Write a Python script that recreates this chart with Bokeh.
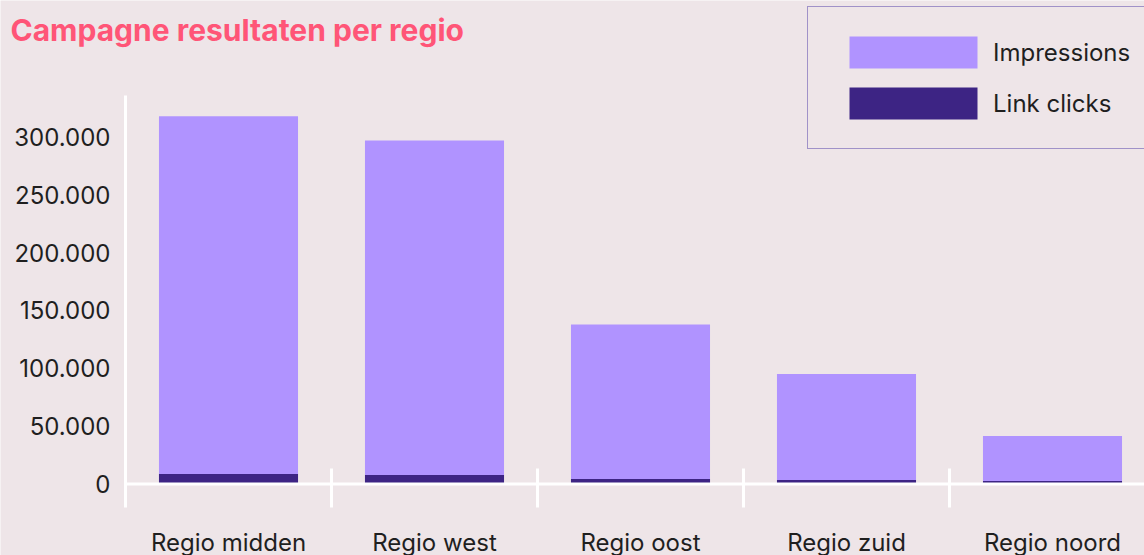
from bokeh.plotting import figure
from bokeh.models import (Range1d, FixedTicker, CustomJSTickFormatter, Legend,
                          LegendItem, ColumnDataSource, Label)
from bokeh.embed import file_html
from bokeh.resources import INLINE

# ---- data ----
regions = ["Regio midden", "Regio west", "Regio oost", "Regio zuid", "Regio noord"]
impressions = [318000, 297000, 138000, 95000, 41500]
link_clicks = [8600, 7800, 4300, 3500, 2600]
y_ticks = [0, 50000, 100000, 150000, 200000, 250000, 300000]
series_names = ["Impressions", "Link clicks"]
title_text = "Campagne resultaten per regio"

# ---- style ----
BG = "#EEE5E8"
C_IMP = "#B093FF"
C_CLK = "#3D2484"
C_TITLE = "#FF5577"
C_TEXT = "#1F1F1F"
C_LEGEND_BORDER = "#5240A8"
FONT = "Inter"

# ---- geometry (canvas pixels) ----
W, H = 1144, 555
ZERO_Y = 483.5          # canvas y of value 0
PX_PER_VAL = 1.1567 / 1000
AXIS_X = 125            # canvas x of the y axis (left edge of first category)
CAT_W = 206             # pixel width of one category


def ydata(cy):
    return (ZERO_Y - cy) / PX_PER_VAL


def xdata(cx):
    return (cx - AXIS_X) / CAT_W


x_pos = [i + 0.5 for i in range(len(regions))]
separators = [i for i in range(1, len(regions))]
source = ColumnDataSource(dict(x=x_pos, region=regions,
                               impressions=impressions, link_clicks=link_clicks))

p = figure(width=W, height=H, output_backend="svg", toolbar_location=None, title=None,
           x_range=Range1d(xdata(0), xdata(W)), y_range=Range1d(ydata(H), ydata(0)),
           min_border=0, min_border_left=0, min_border_right=0, min_border_top=0,
           min_border_bottom=0)
p.background_fill_color = BG
p.border_fill_color = BG
p.outline_line_color = None
p.grid.visible = False

r1 = p.vbar(x="x", top="impressions", width=0.675, source=source,
            fill_color=C_IMP, line_color=None)
r2 = p.vbar(x="x", top="link_clicks", width=0.675, source=source,
            fill_color=C_CLK, line_color=None)

# axis lines and category separators (white)
p.segment(x0=[0], y0=[ydata(507)], x1=[0], y1=[ydata(95)],
          line_color="white", line_width=3)
p.segment(x0=[0], y0=[0], x1=[xdata(W)], y1=[0],
          line_color="white", line_width=3)
p.segment(x0=separators, y0=[ydata(507)] * len(separators),
          x1=separators, y1=[ydata(468)] * len(separators),
          line_color="white", line_width=3)

# x axis (labels drawn up into the canvas, panel takes no space)
xa = p.xaxis[0]
xa.ticker = FixedTicker(ticks=x_pos)
xa.formatter = CustomJSTickFormatter(args=dict(labels=regions),
                                     code="return labels[Math.round(tick - 0.5)];")
xa.axis_label = " "
xa.axis_label_standoff = -40
xa.axis_label_text_font_size = "10px"
xa.axis_line_color = None
xa.major_tick_line_color = None
xa.minor_tick_line_color = None
xa.major_tick_out = 0
xa.major_tick_in = 0
xa.minor_tick_out = 0
xa.minor_tick_in = 0
xa.major_label_standoff = -28
xa.major_label_text_font = FONT
xa.major_label_text_font_size = "24px"
xa.major_label_text_color = C_TEXT

# y axis (labels drawn right of the panel, inside the canvas)
ya = p.yaxis[0]
ya.ticker = FixedTicker(ticks=y_ticks)
ya.formatter = CustomJSTickFormatter(
    code='return tick.toFixed(0).replace(/\\B(?=(\\d{3})+(?!\\d))/g, ".");')
ya.axis_label = None
ya.axis_line_color = None
ya.major_tick_line_color = None
ya.minor_tick_line_color = None
ya.major_tick_out = 0
ya.major_tick_in = 0
ya.minor_tick_out = 0
ya.minor_tick_in = 0
ya.major_label_standoff = -110
ya.major_label_text_font = FONT
ya.major_label_text_font_size = "24px"
ya.major_label_text_color = C_TEXT

# title
p.add_layout(Label(x=xdata(10), y=ydata(29.5), text=title_text,
                   text_font=FONT, text_font_style="bold", text_font_size="30px",
                   text_color=C_TITLE, text_align="left", text_baseline="alphabetic"))

# legend (area swatches are drawn at 80% of the glyph box)
legend = Legend(items=[LegendItem(label=series_names[0], renderers=[r1]),
                       LegendItem(label=series_names[1], renderers=[r2])],
                location=(807, H - 149), orientation="vertical",
                glyph_width=160, glyph_height=40, label_standoff=-3,
                spacing=11, padding=25, margin=0,
                border_line_color=C_LEGEND_BORDER, border_line_width=1.5,
                background_fill_color=BG, background_fill_alpha=1,
                label_text_font=FONT, label_text_font_size="24px",
                label_text_color=C_TEXT)
p.add_layout(legend, "center")

open("out.html", "w").write(file_html(p, INLINE))
